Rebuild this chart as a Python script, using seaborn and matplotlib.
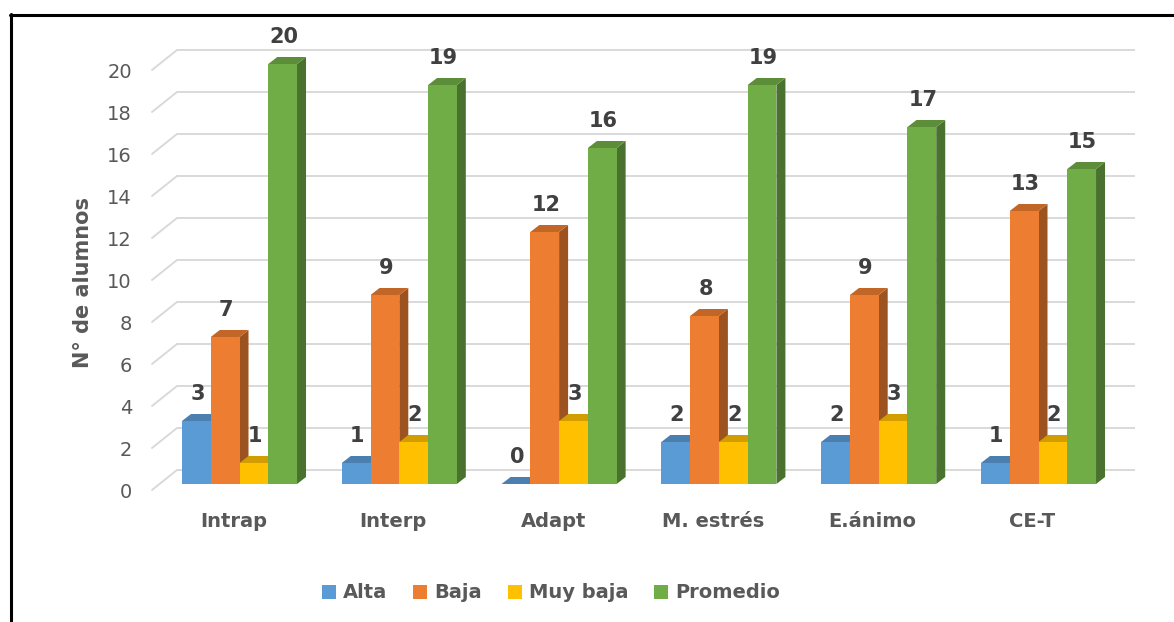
import numpy as np
import pandas as pd
import matplotlib
matplotlib.use("Agg")
import matplotlib.pyplot as plt
import seaborn as sns
from matplotlib.patches import Polygon, Patch
from matplotlib.lines import Line2D
from matplotlib.colors import to_rgb
from matplotlib.transforms import ScaledTranslation

# ---------------- data ----------------
categories = ["Intrap", "Interp", "Adapt", "M. estrés", "E.ánimo", "CE-T"]
series = ["Alta", "Baja", "Muy baja", "Promedio"]
alta = [3, 1, 0, 2, 2, 1]
baja = [7, 9, 12, 8, 9, 13]
muy_baja = [1, 2, 3, 2, 3, 2]
promedio = [20, 19, 16, 19, 17, 15]
y_ticks = [0, 2, 4, 6, 8, 10, 12, 14, 16, 18, 20]
y_label = "N° de alumnos"
colors = ["#5B9BD5", "#ED7D31", "#FFC000", "#70AD47"]

df = pd.DataFrame({
    "Categoría": categories * len(series),
    "Nivel": np.repeat(series, len(categories)),
    "Alumnos": alta + baja + muy_baja + promedio,
})

# ---------------- style ----------------
sns.set_theme(style="white")
plt.rcParams["font.family"] = ["DejaVu Sans"]

W, H = 1174, 622
fig = plt.figure(figsize=(W / 100, H / 100), dpi=100)

# pixel geometry of the plot (front plane)
X0, SX = 239.5, 159.8      # pixel x of category 0, pixels per category
Y0, SY = 484.0, 21.0       # pixel y of value 0, pixels per unit
L, R, T, B = 140, 1150, 30, 500

def px(xp):
    return (xp - X0) / SX

def py(yp):
    return (Y0 - yp) / SY

ax = fig.add_axes([L / W, 1 - B / H, (R - L) / W, (B - T) / H])

sns.barplot(data=df, x="Categoría", y="Alumnos", hue="Nivel",
            palette=colors, width=0.72, gap=0, saturation=1,
            legend=False, errorbar=None, linewidth=0, zorder=2, ax=ax)

ax.set_xlim(px(L), px(R))
ax.set_ylim(py(B), py(T))
for s in ax.spines.values():
    s.set_visible(False)

# back-wall gridlines with slanted side-wall segment
back_dy = (Y0 - 470) / SY      # back wall offset (in data units)
front_dy = (Y0 - 490) / SY     # floor front edge offset
for v in y_ticks:
    ax.plot([px(177), px(1135)], [v + back_dy, v + back_dy],
            color="#D9D9D9", lw=1.4, zorder=0.5, solid_capstyle="butt")
    ax.plot([px(152), px(177)], [v + front_dy, v + back_dy],
            color="#D9D9D9", lw=1.4, zorder=0.5)

# 3D faces for each bar
ddx, ddy = 9 / SX, 7 / SY
bars = [p for p in ax.patches]
for p in bars:
    x0, w, h = p.get_x(), p.get_width(), p.get_height()
    c = np.array(to_rgb(p.get_facecolor()))
    side = Polygon([(x0 + w, 0), (x0 + w + ddx, ddy), (x0 + w + ddx, h + ddy), (x0 + w, h)],
                   closed=True, facecolor=c * 0.66, edgecolor="none", zorder=1.6)
    top = Polygon([(x0, h), (x0 + ddx, h + ddy), (x0 + w + ddx, h + ddy), (x0 + w, h)],
                  closed=True, facecolor=c * 0.82, edgecolor="none", zorder=1.7)
    ax.add_patch(side)
    ax.add_patch(top)
    ax.annotate(f"{int(round(h))}", (x0 + w / 2, h), xytext=(1, 27),
                textcoords="offset pixels", ha="center", va="center",
                fontsize=15, fontweight="bold", color="#404040", zorder=5)

# y ticks (labels on the floor front edge)
ax.set_yticks([v + front_dy for v in y_ticks], labels=[str(v) for v in y_ticks])
ax.tick_params(axis="y", length=0, pad=5.8, labelsize=14, labelcolor="#595959")

# x ticks
ax.set_xticks(range(len(categories)), labels=categories)
ax.tick_params(axis="x", length=0, pad=8.6, labelsize=14, labelcolor="#595959")
off = ScaledTranslation(-0.06, 0, fig.dpi_scale_trans)
for lab in ax.get_xticklabels():
    lab.set_fontweight("bold")
    lab.set_transform(lab.get_transform() + off)
ax.set_xlabel("")

ax.set_ylabel(y_label, fontsize=15, fontweight="bold", color="#595959")
ax.yaxis.set_label_coords((93 - L) / (R - L), (B - 282) / (B - T))

# legend
handles = [Patch(facecolor=c, edgecolor="none") for c in colors]
fig.legend(handles=handles, labels=series, loc="center",
           bbox_to_anchor=(551 / W, 1 - 593 / H), ncol=4, frameon=False,
           prop={"weight": "bold", "size": 14}, labelcolor="#595959",
           handlelength=0.72, handleheight=0.72, handletextpad=0.36,
           columnspacing=1.34, borderpad=0)

# outer frame (top and left edges visible)
fig.add_artist(Line2D([10 / W, 1], [1 - 14.5 / H, 1 - 14.5 / H], color="black",
                      lw=2.2, transform=fig.transFigure))
fig.add_artist(Line2D([10.5 / W, 10.5 / W], [0, 1 - 14 / H], color="black",
                      lw=2.2, transform=fig.transFigure))

fig.savefig("out.png", dpi=100)
